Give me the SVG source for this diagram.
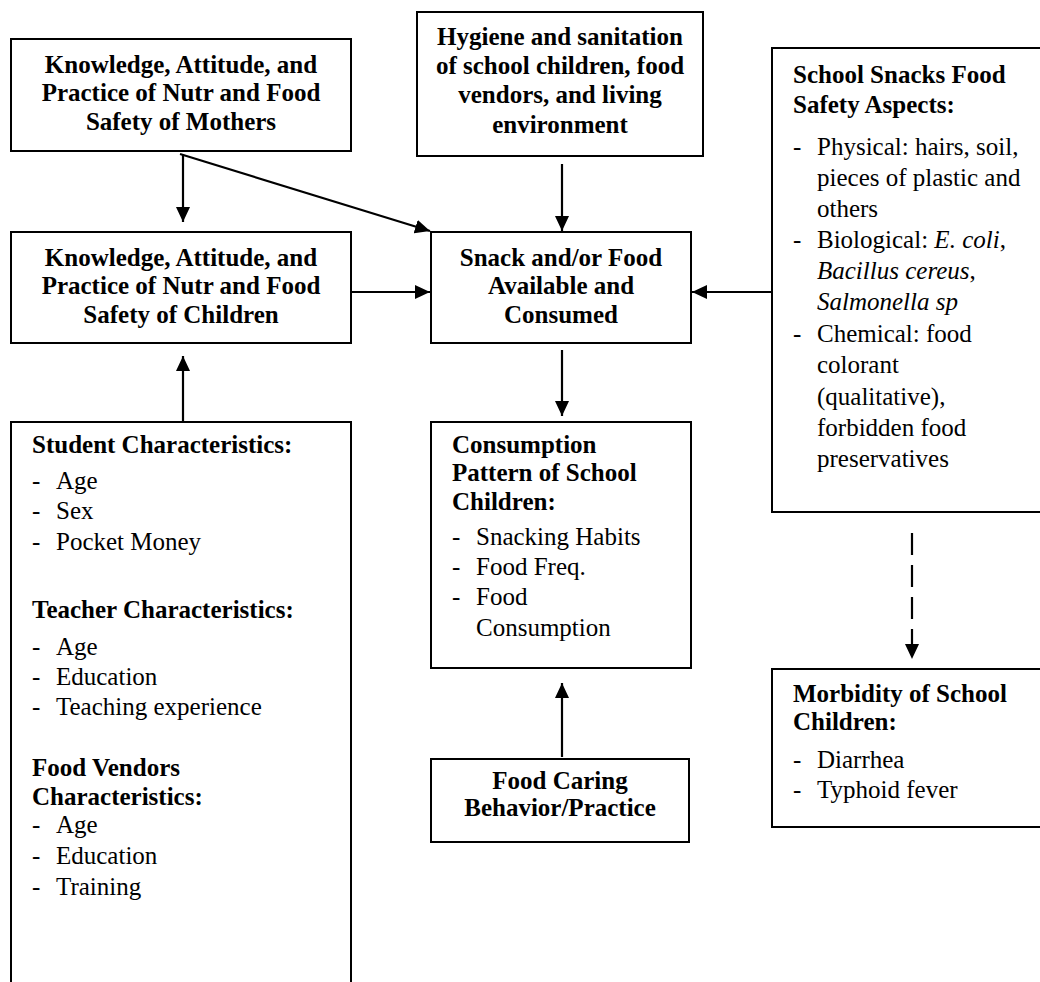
<svg xmlns="http://www.w3.org/2000/svg" width="1040" height="982" viewBox="0 0 1040 982">
<style>
.box{fill:#fff;stroke:#000;stroke-width:2}
text{font-family:"Liberation Serif","Times New Roman",serif;font-size:25px;fill:#000}
.b{font-weight:bold}
.c{text-anchor:middle}
.i{font-style:italic}
.ln{stroke:#000;stroke-width:2.2;fill:none}
.dash{stroke-dasharray:22 10}
</style>
<defs>
<marker id="ah" markerWidth="16" markerHeight="14" refX="15" refY="7" orient="auto" markerUnits="userSpaceOnUse">
<path d="M0,0 L15,7 L0,14 Z" fill="#000"/>
</marker>
</defs>
<rect width="1040" height="982" fill="#fff"/>

<g id="connectors">
<line class="ln" x1="183" y1="154" x2="183" y2="222" marker-end="url(#ah)"/>
<line class="ln" x1="180" y1="154" x2="430" y2="231" marker-end="url(#ah)"/>
<line class="ln" x1="351" y1="292" x2="430" y2="292" marker-end="url(#ah)"/>
<line class="ln" x1="183" y1="421" x2="183" y2="356" marker-end="url(#ah)"/>
<line class="ln" x1="562" y1="164" x2="562" y2="231" marker-end="url(#ah)"/>
<line class="ln" x1="772" y1="292" x2="692" y2="292" marker-end="url(#ah)"/>
<line class="ln" x1="562" y1="350" x2="562" y2="416" marker-end="url(#ah)"/>
<line class="ln" x1="562" y1="757" x2="562" y2="683" marker-end="url(#ah)"/>
<line class="ln dash" x1="912" y1="533" x2="912" y2="659" marker-end="url(#ah)"/>
</g>

<g id="mothers">
<rect class="box" x="11" y="39" width="340" height="112"/>
<text class="b c" x="181" y="73">Knowledge, Attitude, and</text>
<text class="b c" x="181" y="101">Practice of Nutr and Food</text>
<text class="b c" x="181" y="130">Safety of Mothers</text>
</g>

<g id="children">
<rect class="box" x="11" y="232" width="340" height="111"/>
<text class="b c" x="181" y="266">Knowledge, Attitude, and</text>
<text class="b c" x="181" y="294">Practice of Nutr and Food</text>
<text class="b c" x="181" y="323">Safety of Children</text>
</g>

<g id="hygiene">
<rect class="box" x="417" y="12" width="286" height="144"/>
<text class="b c" x="560" y="45">Hygiene and sanitation</text>
<text class="b c" x="560" y="74">of school children, food</text>
<text class="b c" x="560" y="103">vendors, and living</text>
<text class="b c" x="560" y="133">environment</text>
</g>

<g id="snack">
<rect class="box" x="431" y="232" width="260" height="111"/>
<text class="b c" x="561" y="266">Snack and/or Food</text>
<text class="b c" x="561" y="294">Available and</text>
<text class="b c" x="561" y="323">Consumed</text>
</g>

<g id="safety">
<rect class="box" x="772" y="48" width="290" height="464"/>
<text class="b" x="793" y="83">School Snacks Food</text>
<text class="b" x="793" y="113">Safety Aspects:</text>
<text x="793" y="155">-</text><text x="817" y="155">Physical: hairs, soil,</text>
<text x="817" y="186">pieces of plastic and</text>
<text x="817" y="217">others</text>
<text x="793" y="248">-</text><text x="817" y="248">Biological: <tspan class="i">E. coli</tspan>,</text>
<text x="817" y="279"><tspan class="i">Bacillus cereus</tspan>,</text>
<text x="817" y="310" class="i">Salmonella sp</text>
<text x="793" y="342">-</text><text x="817" y="342">Chemical: food</text>
<text x="817" y="373">colorant</text>
<text x="817" y="405">(qualitative),</text>
<text x="817" y="436">forbidden food</text>
<text x="817" y="467">preservatives</text>
</g>

<g id="characteristics">
<rect class="box" x="11" y="422" width="340" height="590"/>
<text class="b" x="32" y="453">Student Characteristics:</text>
<text x="32" y="489">-</text><text x="56" y="489">Age</text>
<text x="32" y="519">-</text><text x="56" y="519">Sex</text>
<text x="32" y="550">-</text><text x="56" y="550">Pocket Money</text>
<text class="b" x="32" y="618">Teacher Characteristics:</text>
<text x="32" y="655">-</text><text x="56" y="655">Age</text>
<text x="32" y="685">-</text><text x="56" y="685">Education</text>
<text x="32" y="715">-</text><text x="56" y="715">Teaching experience</text>
<text class="b" x="32" y="776">Food Vendors</text>
<text class="b" x="32" y="805">Characteristics:</text>
<text x="32" y="833">-</text><text x="56" y="833">Age</text>
<text x="32" y="864">-</text><text x="56" y="864">Education</text>
<text x="32" y="895">-</text><text x="56" y="895">Training</text>
</g>

<g id="consumption">
<rect class="box" x="431" y="422" width="260" height="246"/>
<text class="b" x="452" y="453">Consumption</text>
<text class="b" x="452" y="481">Pattern of School</text>
<text class="b" x="452" y="510">Children:</text>
<text x="452" y="545">-</text><text x="476" y="545">Snacking Habits</text>
<text x="452" y="575">-</text><text x="476" y="575">Food Freq.</text>
<text x="452" y="605">-</text><text x="476" y="605">Food</text>
<text x="476" y="636">Consumption</text>
</g>

<g id="caring">
<rect class="box" x="431" y="759" width="258" height="83"/>
<text class="b c" x="560" y="789">Food Caring</text>
<text class="b c" x="560" y="816">Behavior/Practice</text>
</g>

<g id="morbidity">
<rect class="box" x="772" y="669" width="290" height="158"/>
<text class="b" x="793" y="702">Morbidity of School</text>
<text class="b" x="793" y="730">Children:</text>
<text x="793" y="768">-</text><text x="817" y="768">Diarrhea</text>
<text x="793" y="798">-</text><text x="817" y="798">Typhoid fever</text>
</g>
</svg>
